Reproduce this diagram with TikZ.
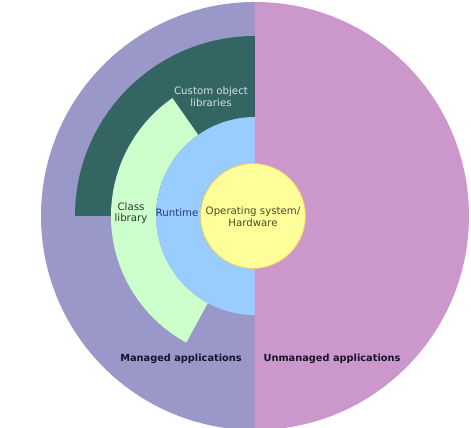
\documentclass[tikz,border=0pt]{standalone}
\usepackage{fontspec}
\setmainfont{DejaVu Sans}
\definecolor{managedcol}{HTML}{9A98C9}
\definecolor{unmanagedcol}{HTML}{CC97CA}
\definecolor{customcol}{HTML}{336663}
\definecolor{classcol}{HTML}{CCFFCC}
\definecolor{runtimecol}{HTML}{99CCFF}
\definecolor{oscol}{HTML}{FFFF99}
\definecolor{osedge}{HTML}{F2C866}
\definecolor{customtext}{HTML}{D6E2E0}
\definecolor{classtext}{HTML}{263826}
\definecolor{runtimetext}{HTML}{263C70}
\definecolor{ostext}{HTML}{4A4A22}
\definecolor{apptext}{HTML}{141428}

\begin{document}
\begin{tikzpicture}[
            x=1pt, y=1pt,
            layerlabel/.style={align=center, font=\fontsize{10.2}{11.6}\selectfont, inner sep=0pt},
            applabel/.style={font=\fontsize{9.8}{11}\selectfont\bfseries, color=apptext, inner sep=0pt}
        ]
            % background and bounding box
            \fill[white] (-255, -212) rectangle (216, 216);
            \useasboundingbox (-255, -212) rectangle (216, 216);

            % applications (two halves of the outer disc)
            \fill[managedcol] (0, -214) arc[start angle=270, end angle=90, radius=214] -- cycle;
            \fill[unmanagedcol] (0, 214) arc[start angle=90, end angle=-90, radius=214] -- cycle;

            % custom object libraries
            \fill[customcol] (0, 0) -- (0, 180) arc[start angle=90, end angle=180, radius=180] -- cycle;

            % class library
            \fill[classcol] (125:99) -- (125:144) arc[start angle=125, end angle=241.5, radius=144]
                -- (241.5:99) arc[start angle=241.5, end angle=125, radius=99] -- cycle;

            % runtime
            \fill[runtimecol] (0, 99) arc[start angle=90, end angle=270, radius=99] -- cycle;

            % operating system
            \filldraw[fill=oscol, draw=osedge, line width=0.8pt] (-2, 0) circle[radius=52.5];

            % labels
            \node[layerlabel, color=customtext] (custom) at (-44, 119.5) {Custom object\\libraries};
            \node[layerlabel, color=classtext] (class) at (-124, 3) {Class\\library};
            \node[layerlabel, color=runtimetext] (runtime) at (-78, 3) {Runtime};
            \node[layerlabel, color=ostext] (os) at (-2, -0.5) {Operating system/\\Hardware};
            \node[applabel] (managed) at (-74, -143) {Managed applications};
            \node[applabel] (unmanaged) at (77, -143) {Unmanaged applications};

        \end{tikzpicture}
\end{document}
